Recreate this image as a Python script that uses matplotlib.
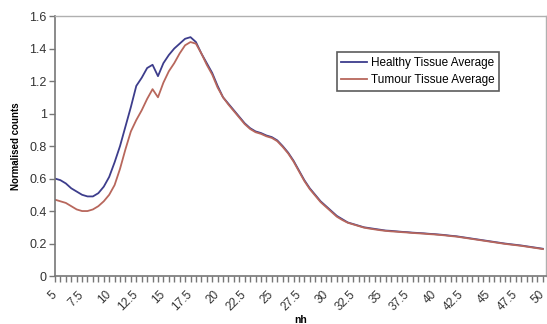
import numpy as np
import matplotlib
matplotlib.use("Agg")
import matplotlib.pyplot as plt
import matplotlib.transforms as mtransforms
from matplotlib.ticker import FixedLocator

plt.rcParams["font.family"] = ["Liberation Sans", "DejaVu Sans"]

# Kategorien 5 .. 50 in Schritten von 0.5
nh = [5.0 + 0.5 * i for i in range(91)]

gesund = [
    0.60, 0.59, 0.57, 0.54, 0.52, 0.50, 0.49, 0.49, 0.51, 0.55,   # 5.0 - 9.5
    0.61, 0.70, 0.80, 0.92, 1.04, 1.17, 1.22, 1.28, 1.30, 1.23,   # 10.0 - 14.5
    1.31, 1.36, 1.40, 1.43, 1.46, 1.47, 1.44, 1.37, 1.31, 1.25,   # 15.0 - 19.5
    1.17, 1.10, 1.06, 1.02, 0.98, 0.94, 0.91, 0.89, 0.88, 0.865,  # 20.0 - 24.5
    0.855, 0.835, 0.80, 0.76, 0.71, 0.65, 0.59, 0.54, 0.50, 0.46,  # 25.0 - 29.5
    0.43, 0.40, 0.37, 0.35, 0.33, 0.32, 0.31, 0.30, 0.295, 0.29,  # 30.0 - 34.5
    0.285, 0.28, 0.278, 0.275, 0.272, 0.27, 0.267, 0.265, 0.263, 0.26,  # 35.0 - 39.5
    0.258, 0.255, 0.252, 0.248, 0.245, 0.24, 0.235, 0.23, 0.225, 0.22,  # 40.0 - 44.5
    0.215, 0.21, 0.205, 0.20, 0.196, 0.192, 0.188, 0.183, 0.178, 0.173,  # 45.0 - 49.5
    0.168,                                                         # 50.0
]

tumor = [
    0.47, 0.46, 0.45, 0.43, 0.41, 0.40, 0.40, 0.41, 0.43, 0.46,   # 5.0 - 9.5
    0.50, 0.56, 0.66, 0.78, 0.89, 0.96, 1.02, 1.09, 1.15, 1.10,   # 10.0 - 14.5
    1.19, 1.26, 1.31, 1.37, 1.42, 1.44, 1.43, 1.37, 1.30, 1.24,   # 15.0 - 19.5
    1.16, 1.10, 1.055, 1.015, 0.975, 0.935, 0.905, 0.885, 0.875, 0.86,  # 20.0 - 24.5
    0.85, 0.83, 0.795, 0.755, 0.705, 0.645, 0.585, 0.535, 0.495, 0.455,  # 25.0 - 29.5
    0.425, 0.395, 0.365, 0.345, 0.328, 0.318, 0.308, 0.298, 0.292, 0.287,  # 30.0 - 34.5
    0.282, 0.278, 0.275, 0.273, 0.27, 0.268, 0.265, 0.263, 0.261, 0.258,  # 35.0 - 39.5
    0.256, 0.253, 0.25, 0.246, 0.243, 0.238, 0.233, 0.228, 0.223, 0.218,  # 40.0 - 44.5
    0.213, 0.208, 0.203, 0.198, 0.194, 0.19, 0.186, 0.181, 0.176, 0.171,  # 45.0 - 49.5
    0.166,                                                         # 50.0
]

x_beschriftungen = [5, 7.5, 10, 12.5, 15, 17.5, 20, 22.5, 25, 27.5, 30,
                    32.5, 35, 37.5, 40, 42.5, 45, 47.5, 50]
y_ticks = [0, 0.2, 0.4, 0.6, 0.8, 1.0, 1.2, 1.4, 1.6]

fig = plt.figure(figsize=(5.47, 3.24), dpi=100)
ax = fig.add_axes([0.1005, 0.148, 0.8975, 0.8025])

ax.plot(nh, gesund, color="#3d3d8c", linewidth=1.3, label="Healthy Tissue Average")
ax.plot(nh, tumor, color="#b8675c", linewidth=1.3, label="Tumour Tissue Average")

ax.set_xlim(5, 50.28)
ax.set_ylim(0, 1.6)

# Y-Achse
ax.yaxis.set_major_locator(FixedLocator(y_ticks))
ax.set_yticklabels([f"{v:g}" for v in y_ticks])
ax.tick_params(axis="y", direction="out", length=4, width=1, color="#777777",
               labelsize=9, labelcolor="#333333", pad=2)

# X-Achse: kleine Striche alle 0.5, Beschriftung alle 2.5
ax.xaxis.set_major_locator(FixedLocator(x_beschriftungen))
ax.xaxis.set_minor_locator(FixedLocator(nh))
ax.set_xticklabels([f"{b:g}" for b in x_beschriftungen], rotation=45,
                   ha="right", va="top", rotation_mode="anchor")
ax.tick_params(axis="x", which="major", direction="out", length=4, width=1,
               color="#777777", labelsize=8.5, labelcolor="#333333", pad=5)
ax.tick_params(axis="x", which="minor", direction="out", length=4, width=1,
               color="#777777")

# Beschriftungen etwas nach links schieben
versatz = mtransforms.ScaledTranslation(-0.04, 0, fig.dpi_scale_trans)
for lbl in ax.get_xticklabels():
    lbl.set_transform(lbl.get_transform() + versatz)

for name in ["left", "bottom"]:
    ax.spines[name].set_color("#777777")
    ax.spines[name].set_linewidth(1.2)
for name in ["top", "right"]:
    ax.spines[name].set_color("#b0b0b0")
    ax.spines[name].set_linewidth(1.0)

ax.set_ylabel("Normalised counts", fontsize=7, fontweight="bold", labelpad=6)
ax.set_xlabel("nh", fontsize=7.5, fontweight="bold", labelpad=1)

leg = ax.legend(loc="upper left", bbox_to_anchor=(0.574, 0.862), fontsize=8.5,
                frameon=True, fancybox=False, handlelength=2.2, handletextpad=0.3,
                borderpad=0.4, labelspacing=0.45, borderaxespad=0)
leg.get_frame().set_edgecolor("#333333")
leg.get_frame().set_linewidth(1.2)

fig.savefig("out.png", dpi=100)
